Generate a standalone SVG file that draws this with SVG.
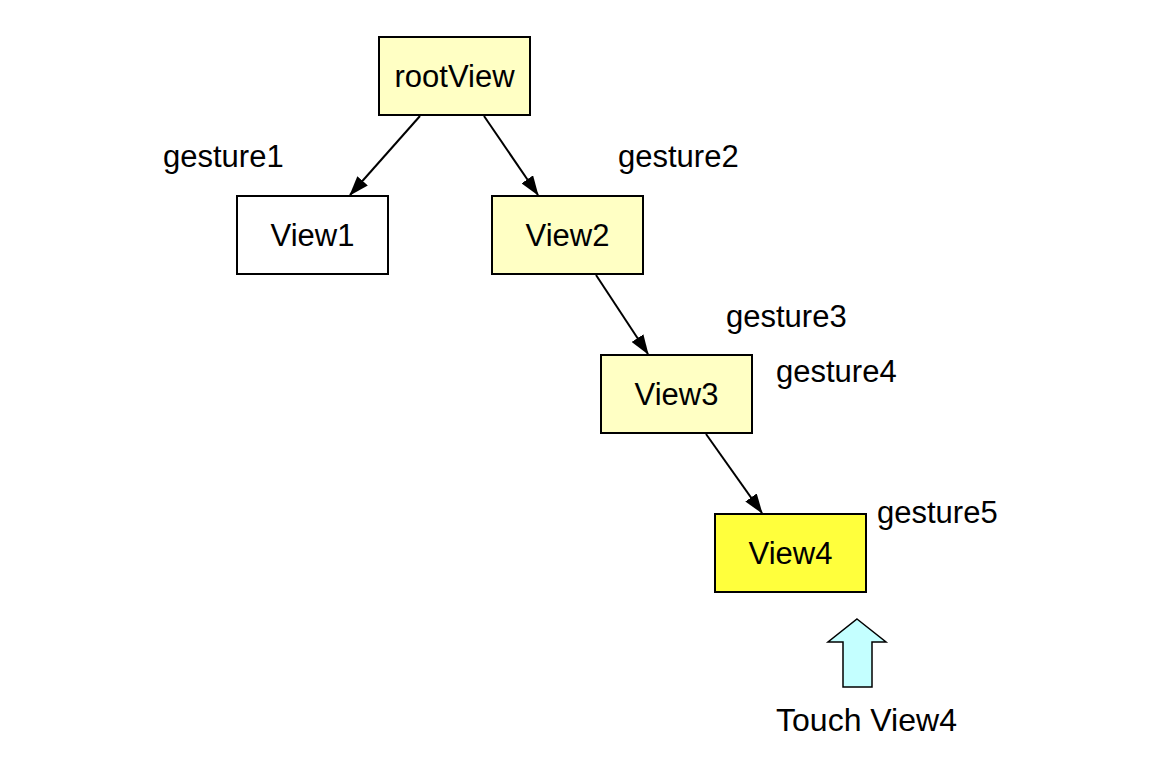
<svg xmlns="http://www.w3.org/2000/svg" width="1164" height="768" viewBox="0 0 1164 768">
<style>
.box{stroke:#000;stroke-width:2}
.pale{fill:#ffffc4}
.lbl{font-family:"Liberation Sans",Arial,sans-serif;font-size:31px;fill:#000}
.ctr{text-anchor:middle}
.edge{stroke:#000;stroke-width:2;fill:none;marker-end:url(#ah)}
</style>
<defs>
<marker id="ah" viewBox="0 0 20 14" refX="19" refY="7" markerWidth="20" markerHeight="14" markerUnits="userSpaceOnUse" orient="auto">
<path d="M0,0 L20,7 L0,14 z" fill="#000"/>
</marker>
</defs>
<rect width="1164" height="768" fill="#fff"/>
<g id="connectors">
<line class="edge" x1="420" y1="116" x2="350" y2="195"/>
<line class="edge" x1="484" y1="116" x2="538" y2="195"/>
<line class="edge" x1="596" y1="275" x2="648" y2="354"/>
<line class="edge" x1="706" y1="434" x2="762" y2="513"/>
</g>
<g id="rootView">
<rect class="box pale" x="379" y="37" width="151" height="78"/>
<text class="lbl ctr" x="454.5" y="87">rootView</text>
</g>
<g id="View1">
<rect class="box" fill="#fff" x="237" y="196" width="151" height="78"/>
<text class="lbl ctr" x="312.5" y="246">View1</text>
</g>
<g id="View2">
<rect class="box pale" x="492" y="196" width="151" height="78"/>
<text class="lbl ctr" x="567.5" y="246">View2</text>
</g>
<g id="View3">
<rect class="box pale" x="601" y="355" width="151" height="78"/>
<text class="lbl ctr" x="676.5" y="405">View3</text>
</g>
<g id="View4">
<rect class="box" fill="#ffff3c" x="715" y="514" width="151" height="78"/>
<text class="lbl ctr" x="790.5" y="564">View4</text>
</g>
<g id="labels">
<text class="lbl" x="163" y="167">gesture1</text>
<text class="lbl" x="618" y="167">gesture2</text>
<text class="lbl" x="726" y="327">gesture3</text>
<text class="lbl" x="776" y="382">gesture4</text>
<text class="lbl" x="877" y="523">gesture5</text>
</g>
<g id="touch">
<path d="M857,619 L886,642 L872,642 L872,687 L843,687 L843,642 L828,642 Z" fill="#c4ffff" stroke="#000" stroke-width="1.5" stroke-linejoin="miter"/>
<text class="lbl ctr" x="866.5" y="731" style="font-size:32px">Touch View4</text>
</g>
</svg>
